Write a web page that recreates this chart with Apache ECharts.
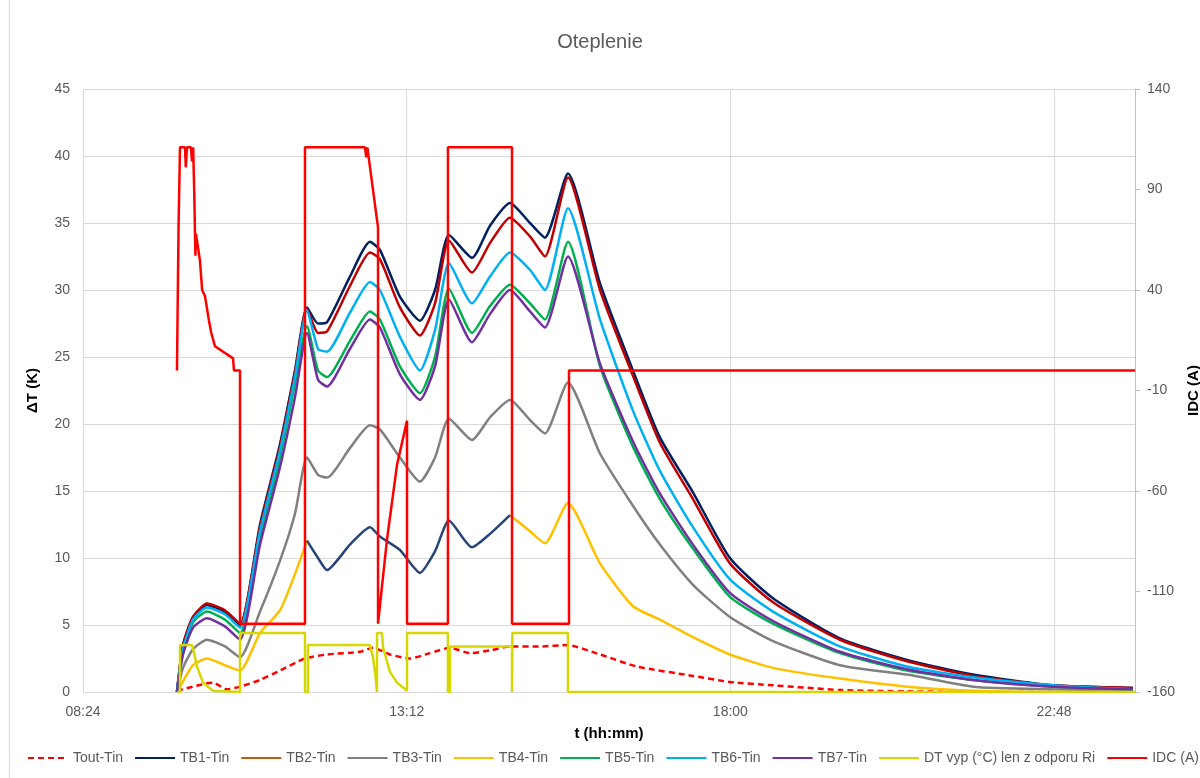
<!DOCTYPE html>
<html>
<head>
    <meta charset="utf-8" />
    <title>Oteplenie</title>
    <script src="https://cdn.jsdelivr.net/npm/echarts@6/dist/echarts.min.js"></script>
    <style>
        body { margin: 0; background: #fff; }
        #echart { width: 1200px; height: 778px; }
        #frame { position: absolute; left: 9px; top: 0; height: 778px; border-left: 1px solid #d9d9d9; }
    </style>
</head>
<body>
    <div id="echart"></div>
    <div id="frame"></div>
<script>
    // time in minutes since midnight
    var tTB = [587.6, 593.0, 601.9, 614.3, 630.3, 643.7, 661.5, 679.3, 692.6, 703.3, 713.1, 721.1,
        741.5, 759.3, 768.2, 786.0, 803.8, 817.2, 829.6, 850.1, 866.1, 883.9, 901.7, 915.0,
        935.5, 964.0, 993.3, 1017.3, 1046.7, 1079.6, 1117.9, 1177.5, 1237.1, 1295.8, 1367.0, 1438.2];

    var tb1 = [0, 3.5, 5.6, 6.5, 6.0, 5.0, 12.5, 18.5, 24.0, 28.7, 27.5, 27.6, 31.0, 33.6, 33.0, 29.5, 27.7, 30.0,
        34.1, 32.4, 34.8, 36.5, 35.0, 33.9, 38.7, 30.5, 24.0, 19.0, 14.9, 10.0, 7.0, 4.0, 2.4, 1.3, 0.5, 0.3];
    var tb2 = [0, 3.5, 5.6, 6.6, 6.1, 5.1, 12.3, 18.3, 23.8, 28.6, 26.8, 26.9, 30.3, 32.8, 32.3, 28.7, 26.6, 29.0,
        33.7, 31.3, 33.5, 35.4, 34.0, 32.5, 38.4, 30.0, 23.6, 18.6, 14.4, 9.6, 6.7, 3.9, 2.3, 1.2, 0.5, 0.3];
    var tb3 = [0, 1.8, 3.2, 3.9, 3.4, 2.6, 6.0, 9.8, 13.3, 17.5, 16.2, 16.0, 18.2, 19.9, 19.6, 17.5, 15.7, 17.5,
        20.4, 18.8, 20.5, 21.8, 20.3, 19.3, 23.1, 17.8, 13.9, 11.0, 8.0, 5.6, 3.8, 2.0, 1.3, 0.4, 0.2, 0.1];
    var tb4 = [0, 0.8, 2.0, 2.5, 2.0, 1.6, 4.4, 6.1, 8.8, 11.3, 10.0, 9.1, 11.0, 12.3, 11.6, 10.6, 8.9, 10.5,
        12.8, 10.8, 11.8, 13.2, 12.0, 11.1, 14.1, 9.6, 6.4, 5.4, 4.1, 2.8, 1.8, 1.0, 0.4, 0.1, 0.0, 0.0];
    var tb5 = [0, 3.0, 5.2, 6.0, 5.4, 4.4, 11.6, 17.5, 23.0, 27.3, 24.0, 23.5, 26.2, 28.4, 27.8, 24.3, 22.3, 25.0,
        30.1, 26.8, 28.8, 30.4, 29.0, 27.8, 33.6, 24.3, 18.3, 14.4, 10.7, 7.1, 5.1, 2.9, 1.6, 0.9, 0.4, 0.2];
    var tb6 = [0, 3.2, 5.4, 6.3, 5.8, 4.8, 12.0, 18.0, 23.5, 28.5, 25.6, 25.4, 28.3, 30.6, 30.0, 26.5, 24.0, 27.0,
        32.0, 29.0, 31.0, 32.8, 31.5, 30.0, 36.1, 27.8, 21.0, 16.5, 12.3, 8.4, 6.0, 3.4, 1.9, 1.1, 0.5, 0.2];
    var tb7 = [0, 2.8, 4.8, 5.5, 4.9, 3.9, 11.0, 16.8, 22.0, 26.8, 23.3, 22.8, 25.6, 27.8, 27.2, 23.7, 21.8, 24.3,
        29.3, 26.1, 28.2, 30.0, 28.4, 27.2, 32.5, 24.5, 18.7, 14.8, 11.0, 7.4, 5.3, 3.0, 1.7, 0.9, 0.4, 0.2];
    // TB4 drawn dark blue between these times
    var tb4DarkFrom = 703.3, tb4DarkTo = 883.9;

    var tOut = [587.6, 590.3, 601.9, 614.3, 619.7, 632.1, 643.7, 661.5, 679.3, 701.5, 721.1, 750.4, 762.0, 777.1,
        794.9, 812.7, 830.5, 848.3, 866.1, 883.9, 910.6, 935.5, 964.0, 996.9, 1046.7, 1079.6, 1117.9, 1177.5,
        1237.1, 1319.8, 1440];
    var tout = [0.1, 0.15, 0.4, 0.65, 0.7, 0.2, 0.4, 0.9, 1.6, 2.5, 2.8, 3.0, 3.3, 2.8, 2.5, 2.9, 3.3, 2.9, 3.1,
        3.4, 3.4, 3.5, 2.8, 1.9, 1.2, 0.75, 0.5, 0.15, 0.05, 0, 0];

    var tDT = [588, 590.3, 590.3, 601.0, 602.0, 605.4, 610.8, 619.7, 621, 643.7, 643.7, 701.5, 701.5, 704.2, 704.2,
        759.3, 762.0, 764.5, 765.6, 765.6, 770.0, 771.0, 777.1, 783.4, 792.3, 792.3, 828.7, 828.7, 830.5, 830.5,
        885.7, 885.7, 886.0, 935.5, 935.5, 1440];
    var dt = [0, 0, 3.5, 3.5, 3.2, 1.9, 0.7, 0.1, 0, 0, 4.4, 4.4, 0, 0, 3.5,
        3.5, 2.6, 1.0, 0, 4.4, 4.4, 3.3, 1.5, 0.7, 0.1, 4.4, 4.4, 0, 0, 3.4,
        3.4, 0, 4.4, 4.4, 0, 0];

    var tIDC = [587.6, 588.5, 589.0, 590.3, 594.7, 595.5, 596.5, 600.0, 601.0, 602.0, 603.0, 604.0, 604.5, 608.0,
        610.0, 612.5, 616.0, 618.0, 621.4, 637.5, 638.3, 643.7, 643.7, 701.5, 701.5, 754.9, 756.0, 757.0, 757.6,
        766.5, 766.5, 768.2, 774.5, 783.4, 792.3, 792.3, 828.7, 828.7, 885.7, 885.7, 936.4, 936.4, 1440];
    var idc = [0, 0, 71, 111, 111, 101, 111, 111, 104, 111, 88, 57, 68, 55,
        40, 37, 25, 19, 12, 6, 0, 0, -126, -126, 111, 111, 106, 111, 111,
        71, -126, -126, -84, -47, -25, -126, -126, 111, 111, -126, -126, 0, 0];

    function pairs(t, v) {
        return t.map(function (x, i) { return [x, v[i]]; });
    }
    function pad(n) { return (n < 10 ? '0' : '') + n; }

    var tb4Light = tTB.map(function (x, i) {
        return (x <= tb4DarkFrom || x >= tb4DarkTo) ? [x, tb4[i]] : [x, '-'];
    });
    var tb4Dark = tTB.map(function (x, i) {
        return (x >= tb4DarkFrom && x <= tb4DarkTo) ? [x, tb4[i]] : [x, '-'];
    });

    function line(name, data, color, extra) {
        var s = {
            name: name,
            type: 'line',
            data: data,
            symbol: 'none',
            smooth: 0.2,
            lineStyle: { color: color, width: 2.5 },
            itemStyle: { color: color },
            z: 2
        };
        for (var k in extra) s[k] = extra[k];
        return s;
    }

    var myChart = echarts.init(document.getElementById('echart'));
    var font = '"Liberation Sans", Arial, sans-serif';

    var option = {
        animation: false,
        backgroundColor: '#fff',
        textStyle: { fontFamily: font },
        title: {
            text: 'Oteplenie',
            left: 'center',
            top: 27,
            textStyle: { fontSize: 20, fontWeight: 'normal', color: '#595959', fontFamily: font }
        },
        grid: { left: 83, right: 65, top: 89, bottom: 86, outerBoundsMode: 'none', containLabel: false },
        legend: {
            top: 751,
            left: 27,
            width: 1172,
            padding: 0,
            itemWidth: 40,
            itemHeight: 14,
            itemGap: 11,
            itemStyle: { opacity: 0 },
            textStyle: { fontSize: 14, color: '#595959', fontFamily: font },
            data: [
                'Tout-Tin', 'TB1-Tin',
                { name: 'TB2-Tin', lineStyle: { color: '#C55A11' } },
                'TB3-Tin', 'TB4-Tin', 'TB5-Tin', 'TB6-Tin', 'TB7-Tin',
                'DT vyp (°C) len z odporu Ri', 'IDC (A)'
            ]
        },
        xAxis: {
            type: 'value',
            min: 504,
            max: 1440,
            interval: 288,
            name: 't (hh:mm)',
            nameLocation: 'middle',
            nameGap: 34,
            nameTextStyle: { fontSize: 15, fontWeight: 'bold', color: '#000' },
            axisLine: { show: true, lineStyle: { color: '#d9d9d9', width: 1 } },
            axisTick: { show: false },
            axisLabel: {
                margin: 13,
                fontSize: 14,
                color: '#595959',
                showMaxLabel: false,
                formatter: function (v) { return pad(Math.floor(v / 60)) + ':' + pad(v % 60); }
            },
            splitLine: { show: true, lineStyle: { color: '#d9d9d9', width: 1 } }
        },
        yAxis: [{
            type: 'value',
            min: 0,
            max: 45,
            interval: 5,
            name: 'ΔT (K)',
            nameLocation: 'middle',
            nameGap: 43,
            nameTextStyle: { fontSize: 15, fontWeight: 'bold', color: '#000' },
            axisLine: { show: false },
            axisTick: { show: false },
            axisLabel: { margin: 13, fontSize: 14, color: '#595959' },
            splitLine: { show: true, lineStyle: { color: '#d9d9d9', width: 1 } }
        }, {
            type: 'value',
            min: -160,
            max: 140,
            interval: 50,
            name: 'IDC (A)',
            nameLocation: 'middle',
            nameGap: 47,
            nameRotate: 90,
            nameTextStyle: { fontSize: 15, fontWeight: 'bold', color: '#000' },
            axisLine: { show: true, lineStyle: { color: '#bfbfbf', width: 1 } },
            axisTick: { show: true, length: 5, lineStyle: { color: '#bfbfbf' } },
            axisLabel: { margin: 12, fontSize: 14, color: '#595959' },
            splitLine: { show: false }
        }],
        series: [
            line('Tout-Tin', pairs(tOut, tout), '#FF0000', {
                lineStyle: { color: '#FF0000', width: 2.5, type: [6, 4] }
            }),
            line('TB1-Tin', pairs(tTB, tb1), '#002060'),
            line('TB2-Tin', pairs(tTB, tb2), '#C00000'),
            line('TB3-Tin', pairs(tTB, tb3), '#808080'),
            line('TB4-Tin', tb4Light, '#FFC000'),
            line('TB4-Tin (b)', tb4Dark, '#264478'),
            line('TB5-Tin', pairs(tTB, tb5), '#00B050'),
            line('TB6-Tin', pairs(tTB, tb6), '#00B0F0'),
            line('TB7-Tin', pairs(tTB, tb7), '#7030A0'),
            line('DT vyp (°C) len z odporu Ri', pairs(tDT, dt), '#D6D600', { smooth: false }),
            line('IDC (A)', pairs(tIDC, idc), '#FF0000', { yAxisIndex: 1, z: 3, smooth: false })
        ]
    };
    myChart.setOption(option);
</script>
</body>
</html>
